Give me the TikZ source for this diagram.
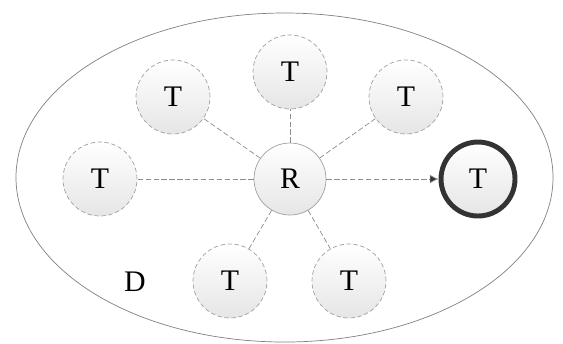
\documentclass[tikz,border=0pt]{standalone}
\usepackage{fontspec}
\setmainfont{Liberation Serif}
\usetikzlibrary{arrows.meta,positioning}
\definecolor{rim}{HTML}{A0A0A0}
\definecolor{dashc}{HTML}{8C8C8C}
\definecolor{hot}{HTML}{333333}

\begin{document}
\begin{tikzpicture}[
  x=0.02cm, y=-0.02cm,
  font=\fontsize{17}{20}\selectfont, >=Latex,
  tag/.style={circle, minimum size=1.48cm, inner sep=0pt, draw=rim,
    dash pattern=on 2.5pt off 1.5pt, top color=white, bottom color=black!10},
  root/.style={circle, minimum size=1.44cm, inner sep=0pt, draw=rim,
    top color=white, bottom color=black!10},
  target/.style={tag, solid, draw=hot, line width=2.8pt},
  link/.style={draw=dashc, dash pattern=on 3pt off 1.5pt, thin},
]
\useasboundingbox (0,0) rectangle (563,343);
% --- deployment area ---
\draw[draw=black!50, thin] (284.5,177.5) ellipse [x radius=268.5, y radius=164.5];
\node (d) at (135,282) {D};
% --- reader in the middle ---
\node[root] (r) at (290,179) {R};
% --- tags round it ---
\node[tag] (t1) at (290,72) {T};
\node[tag] (t2) at (173,97) {T};
\node[tag] (t3) at (406,97) {T};
\node[tag] (t4) at (100,179) {T};
\node[tag] (t5) at (230,281) {T};
\node[tag] (t6) at (349,281) {T};
\node[target] (t7) at (478,179) {T};
% --- links ---
\foreach \t in {t1,t2,t3,t4,t5,t6} {
  \draw[link] (r) -- (\t);
}
\draw[link, -{Latex[length=5pt,width=5pt,fill=hot]}] (r) -- (t7);
\end{tikzpicture}
\end{document}
